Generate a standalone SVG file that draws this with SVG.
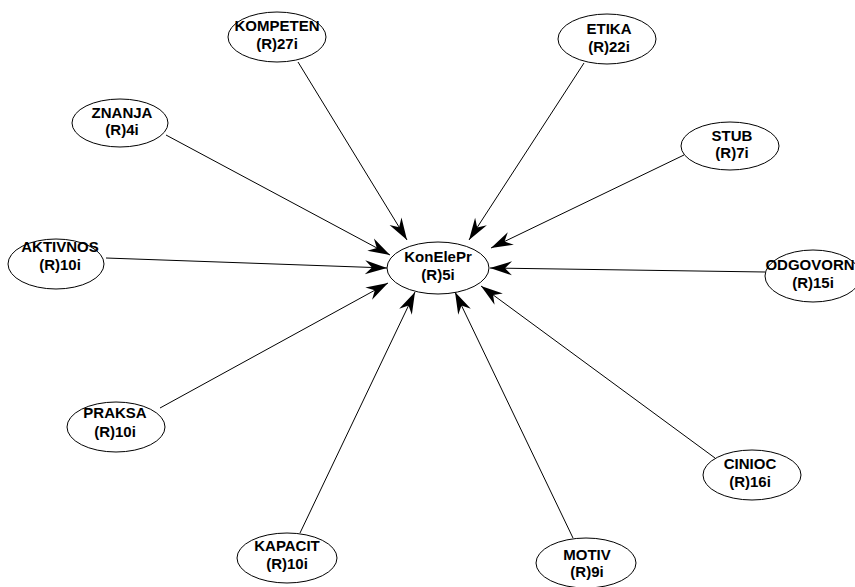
<svg xmlns="http://www.w3.org/2000/svg" width="855" height="587" viewBox="0 0 855 587">
  <style>
    .node ellipse { fill: #ffffff; stroke: #000000; stroke-width: 1; }
    .node text { font-family: "Liberation Sans", Arial, sans-serif; font-weight: bold; font-size: 15px; fill: #000000; text-anchor: middle; }
    .edges line { stroke: #000000; stroke-width: 1; marker-end: url(#arrow); }
  </style>
  <defs>
    <marker id="arrow" markerUnits="userSpaceOnUse" markerWidth="24" markerHeight="16" viewBox="-23 -8 24 16" refX="0" refY="0" orient="auto">
      <path d="M0,0 L-22,-7 L-15,0 L-22,7 Z" fill="#000000"/>
    </marker>
  </defs>
  <rect x="0" y="0" width="855" height="587" fill="#ffffff"/>

  <!-- directed edges into KonElePr -->
  <g id="edges" class="edges">
    <line x1="298" y1="62" x2="407" y2="240"/>
    <line x1="584" y1="63" x2="469" y2="240"/>
    <line x1="166" y1="135" x2="390" y2="255"/>
    <line x1="684" y1="155" x2="491" y2="248"/>
    <line x1="106" y1="258" x2="387" y2="268"/>
    <line x1="765" y1="272" x2="490" y2="268"/>
    <line x1="160" y1="408" x2="388" y2="283"/>
    <line x1="300" y1="533" x2="415" y2="292"/>
    <line x1="573" y1="538" x2="455" y2="292"/>
    <line x1="715" y1="458" x2="481" y2="286"/>
  </g>

  <g id="KonElePr" class="node">
    <ellipse cx="438" cy="268" rx="51" ry="26"/>
    <text x="438" y="262">KonElePr</text>
    <text x="438" y="280">(R)5i</text>
  </g>
  <g id="KOMPETEN" class="node">
    <ellipse cx="277" cy="37" rx="49" ry="25"/>
    <text x="277" y="31">KOMPETEN</text>
    <text x="277" y="49">(R)27i</text>
  </g>
  <g id="ETIKA" class="node">
    <ellipse cx="607" cy="39" rx="49" ry="25"/>
    <text x="609" y="34">ETIKA</text>
    <text x="609" y="52">(R)22i</text>
  </g>
  <g id="ZNANJA" class="node">
    <ellipse cx="120" cy="123" rx="48" ry="24"/>
    <text x="122" y="118">ZNANJA</text>
    <text x="122" y="135">(R)4i</text>
  </g>
  <g id="STUB" class="node">
    <ellipse cx="730" cy="146" rx="49" ry="24"/>
    <text x="732" y="141">STUB</text>
    <text x="732" y="158">(R)7i</text>
  </g>
  <g id="AKTIVNOS" class="node">
    <ellipse cx="56" cy="264" rx="48" ry="25"/>
    <text x="60" y="252">AKTIVNOS</text>
    <text x="60" y="270">(R)10i</text>
  </g>
  <g id="ODGOVORN" class="node">
    <ellipse cx="813" cy="276" rx="48" ry="26"/>
    <text x="810" y="270">ODGOVORN</text>
    <text x="813" y="288">(R)15i</text>
  </g>
  <g id="PRAKSA" class="node">
    <ellipse cx="116" cy="427" rx="49" ry="25"/>
    <text x="115" y="418">PRAKSA</text>
    <text x="115" y="437">(R)10i</text>
  </g>
  <g id="KAPACIT" class="node">
    <ellipse cx="287" cy="558" rx="50" ry="25"/>
    <text x="287" y="551">KAPACIT</text>
    <text x="287" y="569">(R)10i</text>
  </g>
  <g id="MOTIV" class="node">
    <ellipse cx="586" cy="563" rx="50" ry="25"/>
    <text x="587" y="560">MOTIV</text>
    <text x="587" y="577">(R)9i</text>
  </g>
  <g id="CINIOC" class="node">
    <ellipse cx="752" cy="475" rx="49" ry="25"/>
    <text x="750" y="469">CINIOC</text>
    <text x="750" y="487">(R)16i</text>
  </g>
</svg>
